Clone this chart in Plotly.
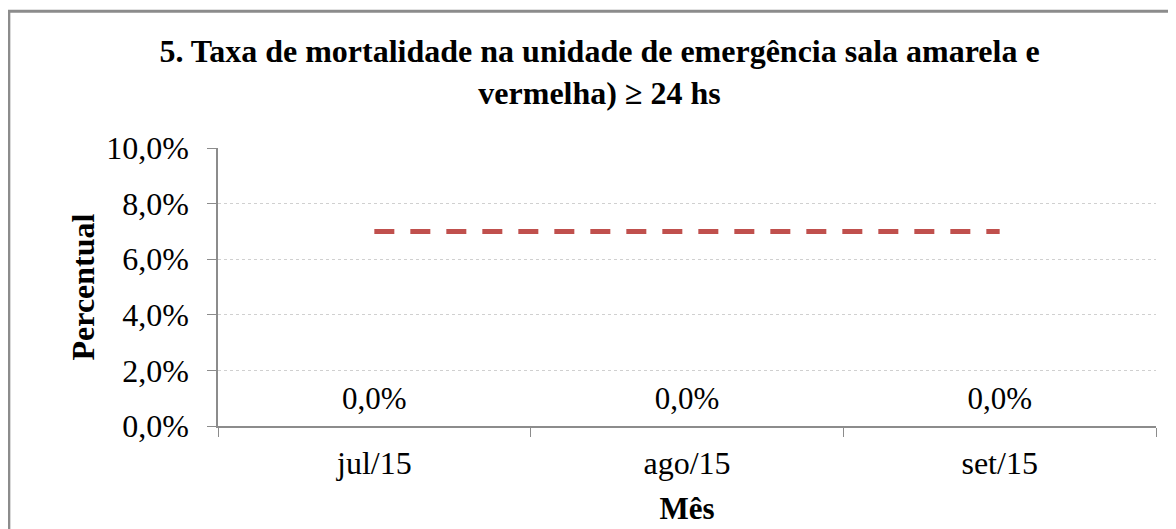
import plotly.graph_objects as go

# Dados
meses = ['jul/15', 'ago/15', 'set/15']
taxa = [0.0, 0.0, 0.0]
meta = [0.07, 0.07, 0.07]

y_ticks = [0, 0.02, 0.04, 0.06, 0.08, 0.10]

serif = 'Liberation Serif, Times New Roman, serif'

fig = go.Figure()

# Série da taxa (valores zerados, só rótulos visíveis)
fig.add_trace(go.Scatter(
    x=meses, y=taxa, mode='markers+text',
    marker=dict(size=14, color='rgba(0,0,0,0)'),
    text=taxa, texttemplate='%{y:.1%}', textposition='top center',
    textfont=dict(family=serif, size=31, color='black'),
    hoverinfo='skip', showlegend=False,
))

# Linha de meta tracejada
fig.add_trace(go.Scatter(
    x=meses, y=meta, mode='lines',
    line=dict(color='#C0504D', width=5, dash='20px,16px'),
    showlegend=False,
))

# a página tem 8px de margem no body, compensado nas margens
fig.update_layout(
    width=1176, height=529,
    margin=dict(l=210, r=28, t=140, b=111),
    paper_bgcolor='white', plot_bgcolor='white',
    separators=',.',
    font=dict(family=serif, color='black'),
    title=dict(
        text='<b>5. Taxa de mortalidade na unidade de emergência sala amarela e<br>vermelha) ≥ 24 hs</b>',
        x=0.503, xanchor='center', y=0.898, yanchor='top',
        font=dict(family=serif, size=32, color='black'),
    ),
    shapes=[dict(
        type='rect', xref='paper', yref='paper',
        x0=-0.223, x1=1.05, y0=-0.45, y1=1.492,
        line=dict(color='#8C8C8C', width=3), fillcolor='rgba(0,0,0,0)', layer='below',
    )],
)

fig.update_xaxes(
    type='category', range=[-0.5, 2.5], automargin=False,
    showline=True, linecolor='#8C8C8C', linewidth=1.5,
    ticks='outside', tickson='boundaries', ticklen=9, tickcolor='#8C8C8C',
    tickfont=dict(family=serif, size=32), showgrid=False, ticklabelstandoff=8,
    title=dict(text='<b>Mês</b>', font=dict(family=serif, size=31), standoff=17),
)

fig.update_yaxes(
    range=[0, 0.10], tickvals=y_ticks, tickformat='.1%', automargin=False,
    showline=True, linecolor='#8C8C8C', linewidth=1.5,
    ticks='outside', ticklen=9, tickcolor='#8C8C8C',
    tickfont=dict(family=serif, size=32), ticklabelstandoff=12,
    showgrid=True, gridcolor='#D0D0D0', griddash='dot', gridwidth=1,
    zeroline=False,
    title=dict(text='<b>Percentual</b>', font=dict(family=serif, size=32), standoff=2),
)

fig.write_html('out.html')
